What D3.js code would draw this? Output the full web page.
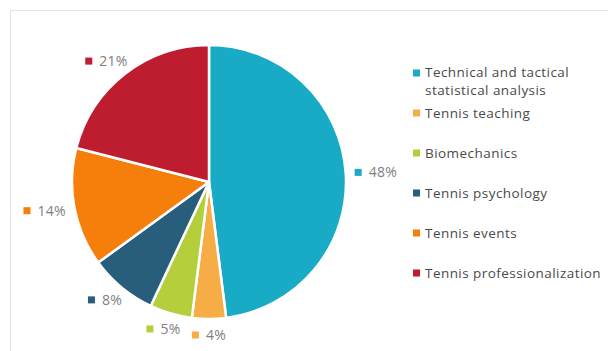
<!DOCTYPE html>
<html>
<head>
<meta charset="utf-8">
<script src="https://cdn.jsdelivr.net/npm/d3@7"></script>
<style>
  body { margin: 0; background: #fff; }
  svg text { font-family: "Open Sans", "Noto Sans", sans-serif; }
</style>
</head>
<body>
<div id="chart"></div>
<script>
// chart data
var categories = ["Technical and tactical statistical analysis", "Tennis teaching", "Biomechanics",
                  "Tennis psychology", "Tennis events", "Tennis professionalization"];
var legendLines = [["Technical and tactical", "statistical analysis"], ["Tennis teaching"], ["Biomechanics"],
                   ["Tennis psychology"], ["Tennis events"], ["Tennis professionalization"]];
var shares = [48, 4, 5, 8, 14, 21];
var colors = ["#19abc6", "#f7ad45", "#b4cf3b", "#285d7c", "#f67f0c", "#bd1d2f"];

var width = 608, height = 351;
var cx = 209, cy = 182, radius = 137;

var svg = d3.select("#chart")
    .append("svg")
    .attr("width", width)
    .attr("height", height);

// frame (only top and left edges are visible)
svg.append("path")
    .attr("d", "M10.5," + height + "V10.5H" + width)
    .attr("fill", "none")
    .attr("stroke", "#e2e2e2");

var pie = d3.pie().sort(null).value(d => d);
var arcs = pie(shares);
var arc = d3.arc().innerRadius(0).outerRadius(radius);

var g = svg.append("g")
    .attr("transform", "translate(" + cx + "," + cy + ")");

g.selectAll("path.slice")
    .data(arcs)
    .enter()
    .append("path")
    .attr("class", "slice")
    .attr("d", arc)
    .attr("fill", (d, i) => colors[i])
    .attr("stroke", "#fff")
    .attr("stroke-width", 2.5)
    .attr("stroke-linejoin", "round");

// data labels with a small key square, placed outside the slices
var labelR = 146, keySize = 7, gap = 7;
arcs.forEach(function(d, i) {
    var a = (d.startAngle + d.endAngle) / 2;
    var px = Math.sin(a) * labelR, py = -Math.cos(a) * labelR;
    var lab = g.append("g");
    var t = lab.append("text")
        .attr("x", keySize + gap)
        .attr("y", 0)
        .attr("dy", "0.35em")
        .style("font-size", "14px")
        .style("letter-spacing", "0.3px")
        .style("fill", "#808080")
        .text(shares[i] + "%");
    var w = keySize + gap + t.node().getComputedTextLength();
    lab.append("rect")
        .attr("x", 0).attr("y", -keySize / 2)
        .attr("width", keySize).attr("height", keySize)
        .attr("fill", colors[i]);
    var f = (1 - Math.sin(a)) / 2;
    var ox = px - f * w;
    var oy = py - Math.cos(a) * 7;
    lab.attr("transform", "translate(" + ox + "," + oy + ")");
});

// legend
var legend = svg.append("g")
    .attr("transform", "translate(413,73)");

var item = legend.selectAll("g")
    .data(categories)
    .enter()
    .append("g")
    .attr("transform", (d, i) => "translate(0," + (i * 40) + ")");

item.append("rect")
    .attr("x", 0).attr("y", -3.5)
    .attr("width", 7).attr("height", 7)
    .attr("fill", (d, i) => colors[i]);

// one text per line so wrapped names stay readable
item.each(function(d, i) {
    var sel = d3.select(this);
    var n = legendLines[i].length;
    legendLines[i].forEach(function(line, j) {
        sel.append("text")
            .attr("x", 12)
            .attr("y", n > 1 ? (j * 18.5 - 1) : 0)
            .attr("dy", "0.35em")
            .style("font-size", "13.5px")
            .style("letter-spacing", "0.45px")
            .style("fill", "#4a4a4a")
            .text(line);
    });
});
</script>
</body>
</html>
